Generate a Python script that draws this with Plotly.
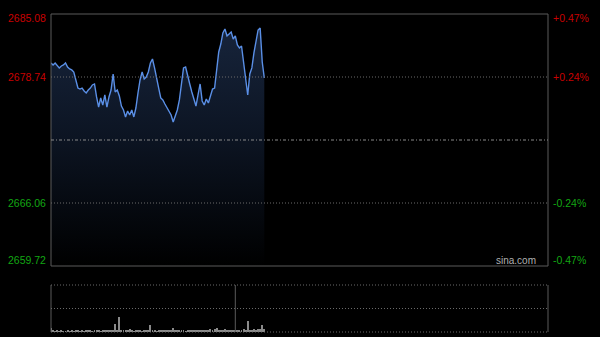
import plotly.graph_objects as go

# ---- data ----
prev_close = 2672.40
y_ticks_left = [2685.08, 2678.74, 2666.06, 2659.72]
y_ticks_right = ["+0.47%", "+0.24%", "-0.24%", "-0.47%"]
tick_colors = ["#c80000", "#c80000", "#13a613", "#13a613"]

price = [
    2680.15, 2679.95, 2680.15, 2679.85, 2679.65, 2679.85, 2679.95, 2680.15, 2679.75, 2679.55,
    2679.45, 2679.24, 2678.44, 2677.63, 2677.53, 2677.63, 2677.33, 2677.13, 2677.43, 2677.63,
    2677.94, 2678.04, 2676.73, 2675.72, 2676.63, 2675.92, 2676.93, 2675.72, 2676.73, 2677.43,
    2679.04, 2677.23, 2677.43, 2676.83, 2675.82, 2675.42, 2674.72, 2675.32, 2674.92, 2675.42,
    2674.72, 2675.62, 2677.13, 2678.44, 2679.24, 2678.54, 2678.74, 2679.24, 2680.15, 2680.55,
    2679.65, 2678.44, 2677.63, 2676.63, 2676.43, 2676.02, 2675.62, 2675.22, 2674.92, 2674.21,
    2674.82, 2675.42, 2676.43, 2677.94, 2679.65, 2679.75, 2678.74, 2678.04, 2677.23, 2676.43,
    2675.82, 2676.93, 2678.04, 2676.33, 2675.92, 2676.53, 2676.12, 2676.83, 2677.53, 2677.63,
    2679.65, 2681.26, 2682.06, 2683.17, 2683.57, 2682.87, 2683.07, 2683.27, 2682.56, 2682.87,
    2681.96, 2681.66, 2681.86, 2680.25, 2678.24, 2676.93, 2679.04, 2679.65, 2681.16, 2682.26,
    2683.47, 2683.67, 2680.25, 2678.64,
]
volume = [
    9, 3, 2, 3, 2, 3, 2, 2, 3, 2,
    3, 2, 4, 3, 2, 3, 2, 3, 4, 3,
    2, 3, 4, 3, 2, 3, 3, 4, 3, 5,
    4, 17, 4, 32, 5, 3, 4, 3, 6, 3,
    2, 3, 3, 4, 2, 3, 3, 4, 15, 5,
    3, 2, 3, 3, 4, 3, 4, 3, 5, 8,
    4, 3, 3, 4, 3, 2, 3, 4, 3, 5,
    3, 4, 3, 3, 4, 3, 5, 6, 5, 6,
    8, 5, 3, 4, 6, 3, 3, 4, 3, 3,
    4, 5, 4, 6, 5, 23, 5, 4, 6, 5,
    7, 6, 15, 6,
]
minutes = list(range(len(price)))
cursor_minute = 89
day_minutes = 240

y_min, y_max = y_ticks_left[-1], y_ticks_left[0]

fig = go.Figure()

# baseline for the gradient fill
fig.add_trace(go.Scatter(x=minutes, y=[y_min] * len(minutes), mode="lines",
                         line=dict(width=0, color="rgba(0,0,0,0)"), hoverinfo="skip",
                         showlegend=False, xaxis="x", yaxis="y"))
fig.add_trace(go.Scatter(
    x=minutes, y=price, mode="lines", fill="tonexty",
    line=dict(color="#5a8fe6", width=1.4),
    fillgradient=dict(type="vertical", start=y_min, stop=y_max,
                      colorscale=[[0, "rgb(0,0,0)"], [0.5, "rgb(12,20,34)"], [1, "rgb(24,38,62)"]]),
    showlegend=False, xaxis="x", yaxis="y"))

fig.add_trace(go.Bar(x=minutes, y=volume, marker=dict(color="#8a8a8a", line=dict(width=0)),
                     width=0.45, showlegend=False, xaxis="x2", yaxis="y2"))

x_dom = [51 / 600, 548 / 600]
main_dom = [(337 - 266) / 337, (337 - 14) / 337]
vol_dom = [(337 - 332) / 337, (337 - 285) / 337]

fig.update_layout(
    width=600, height=337, margin=dict(l=0, r=0, t=0, b=0),
    paper_bgcolor="black", plot_bgcolor="black",
    bargap=0,
    xaxis=dict(domain=x_dom, range=[0, day_minutes], showgrid=False, zeroline=False,
               showticklabels=False, fixedrange=True),
    yaxis=dict(domain=main_dom, range=[y_min, y_max], showgrid=False, zeroline=False,
               showticklabels=False),
    xaxis2=dict(domain=x_dom, range=[0, day_minutes], showgrid=False, zeroline=False,
                showticklabels=False, anchor="y2"),
    yaxis2=dict(domain=vol_dom, range=[0, 100], showgrid=False, zeroline=False,
                showticklabels=False, anchor="x2"),
)

shapes = []
border = "#5a5a5a"
grid = "#6a6a6a"
# main panel border
shapes.append(dict(type="rect", xref="x domain", yref="y domain", x0=0, x1=1, y0=0, y1=1,
                   line=dict(color=border, width=1)))
# main grid lines
for v in [y_ticks_left[1], y_ticks_left[2]]:
    shapes.append(dict(type="line", xref="x domain", yref="y", x0=0, x1=1, y0=v, y1=v,
                       line=dict(color=grid, width=1, dash="1px,2px")))
shapes.append(dict(type="line", xref="x domain", yref="y", x0=0, x1=1, y0=prev_close, y1=prev_close,
                   line=dict(color="#8a8a8a", width=1, dash="3px,2px,1px,2px")))
# volume panel
shapes.append(dict(type="line", xref="x2 domain", yref="y2 domain", x0=0, x1=0, y0=0, y1=1,
                   line=dict(color=border, width=1)))
shapes.append(dict(type="line", xref="x2 domain", yref="y2 domain", x0=1, x1=1, y0=0, y1=1,
                   line=dict(color=border, width=1)))
for yy in [0, 0.5, 1]:
    shapes.append(dict(type="line", xref="x2 domain", yref="y2 domain", x0=0, x1=1, y0=yy, y1=yy,
                       line=dict(color=grid, width=1, dash="1px,2px")))
shapes.append(dict(type="line", xref="x2", yref="y2 domain", x0=cursor_minute, x1=cursor_minute,
                   y0=0, y1=1, line=dict(color=border, width=1)))
fig.update_layout(shapes=shapes)

ann = []
shifts = [-4, 0, 0, 6]
for v, r, c, s in zip(y_ticks_left, y_ticks_right, tick_colors, shifts):
    ann.append(dict(x=x_dom[0], xref="paper", xanchor="right", xshift=-3, y=v, yref="y",
                    yanchor="middle", yshift=s, text=f"{v:.2f}", showarrow=False,
                    font=dict(family="Liberation Sans, Arial", size=10.5, color=c)))
    ann.append(dict(x=x_dom[1], xref="paper", xanchor="left", xshift=3, y=v, yref="y",
                    yanchor="middle", yshift=s, text=r, showarrow=False,
                    font=dict(family="Liberation Sans, Arial", size=10.5, color=c)))
ann.append(dict(x=x_dom[1], xref="paper", xanchor="right", xshift=-10, y=y_min, yref="y",
                yanchor="bottom", yshift=-2, text="sina.com", showarrow=False,
                font=dict(family="Liberation Sans, Arial", size=10, color="#b0b0b0")))
fig.update_layout(annotations=ann)

fig.write_html("out.html")
